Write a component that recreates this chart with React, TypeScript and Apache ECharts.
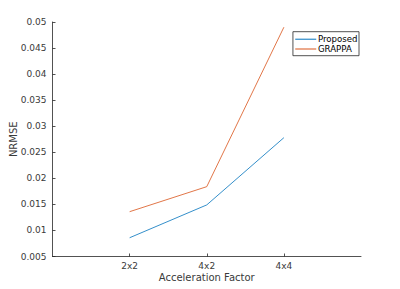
import React, { useEffect, useRef } from "react";
import * as echarts from "echarts";

const categories = ["2x2", "4x2", "4x4"];
const proposed = [0.0086, 0.0149, 0.0278];
const grappa = [0.0136, 0.0184, 0.049];
const yMin = 0.005;
const yMax = 0.05;
const yStep = 0.005;

export default function App() {
  const ref = useRef<HTMLDivElement>(null);
  useEffect(() => {
    if (!ref.current) return;
    const chart = echarts.init(ref.current, null, { renderer: "svg" });
    const font = "DejaVu Sans";
    const axisColor = "#262626";
    const labelColor = "#3a3a3a";
    const lineIcon = "path://M0,0 L21,0 L21,1 L0,1 Z";
    chart.setOption({
      animation: false,
      backgroundColor: "#fff",
      grid: { left: 52.5, top: 22, right: 39, bottom: 32.5, containLabel: false, outerBoundsMode: "none" },
      legend: {
        orient: "vertical",
        right: 41,
        top: 31.7,
        backgroundColor: "#fff",
        borderColor: "#262626",
        borderWidth: 0.8,
        borderRadius: 0,
        padding: [2.6, 1.5, 1.8, 2.3],
        itemWidth: 21,
        itemHeight: 1,
        itemGap: 0,
        textStyle: { fontFamily: font, fontSize: 8.6, lineHeight: 9.8, color: "#000", padding: [0, 0, 0, -3.3] },
        data: [
          { name: "Proposed", icon: lineIcon, itemStyle: { color: "#0072BD" } },
          { name: "GRAPPA", icon: lineIcon, itemStyle: { color: "#D95319" } },
        ],
      },
      xAxis: {
        type: "value",
        min: 0,
        max: categories.length + 1,
        interval: 1,
        name: "Acceleration Factor",
        nameLocation: "middle",
        nameGap: 16,
        nameMoveOverlap: false,
        nameTextStyle: { fontFamily: font, fontSize: 10, color: labelColor },
        axisLine: { show: true, lineStyle: { color: axisColor, width: 0.8 } },
        axisTick: { show: true, inside: true, length: 3, customValues: categories.map((_, i) => i + 1), lineStyle: { color: axisColor, width: 0.8 } },
        axisLabel: {
          customValues: categories.map((_, i) => i + 1),
          formatter: (v: number) => categories[Math.round(v) - 1] ?? "",
          fontFamily: font,
          fontSize: 9,
          color: labelColor,
          margin: 5,
        },
        splitLine: { show: false },
      },
      yAxis: {
        type: "value",
        min: yMin,
        max: yMax,
        interval: yStep,
        name: "NRMSE",
        nameLocation: "middle",
        nameGap: 34,
        nameMoveOverlap: false,
        nameTextStyle: { fontFamily: font, fontSize: 10, color: labelColor },
        axisLine: { show: true, lineStyle: { color: axisColor, width: 0.8 } },
        axisTick: { show: true, inside: true, length: 3, lineStyle: { color: axisColor, width: 0.8 } },
        axisLabel: {
          formatter: (v: number) => String(parseFloat(v.toFixed(4))),
          fontFamily: font,
          fontSize: 9,
          color: labelColor,
          margin: 6,
        },
        splitLine: { show: false },
      },
      series: [
        {
          name: "Proposed",
          type: "line",
          symbol: "none",
          lineStyle: { color: "#0072BD", width: 0.8 },
          itemStyle: { color: "#0072BD" },
          data: categories.map((_, i) => [i + 1, proposed[i]]),
        },
        {
          name: "GRAPPA",
          type: "line",
          symbol: "none",
          lineStyle: { color: "#D95319", width: 0.8 },
          itemStyle: { color: "#D95319" },
          data: categories.map((_, i) => [i + 1, grappa[i]]),
        },
      ],
    });
    return () => chart.dispose();
  }, []);
  return <div ref={ref} style={{ width: 400, height: 289, position: "absolute", left: 0, top: 0 }} />;
}
